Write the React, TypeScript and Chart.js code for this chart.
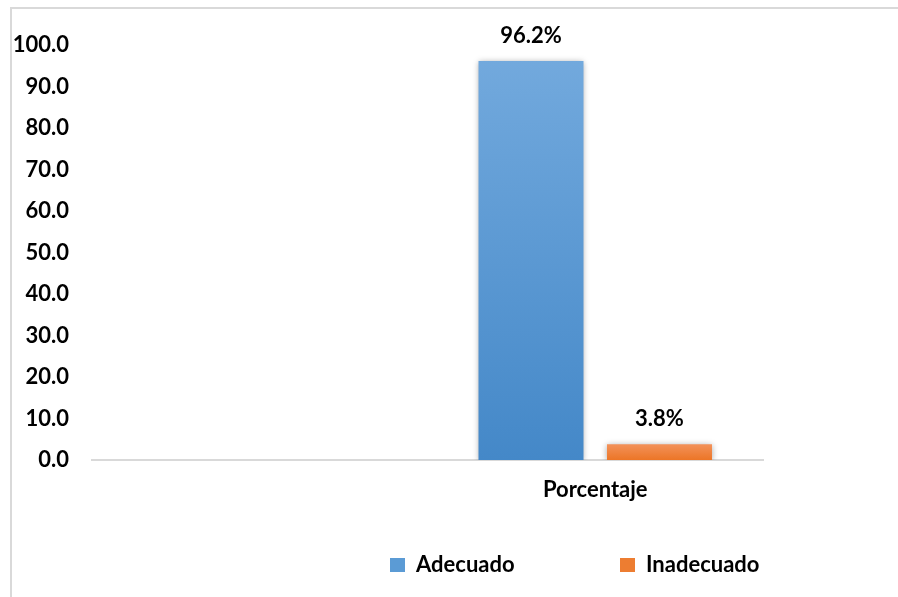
import React, { useEffect, useRef } from 'react';
import { Chart, registerables } from 'chart.js';

Chart.register(...registerables);

// ---- data ----
const categories = ['', 'Porcentaje'];
const seriesNames = ['Adecuado', 'Inadecuado'];
const adecuadoValues: (number | null)[] = [null, 96.2];
const inadecuadoValues: (number | null)[] = [null, 3.8];
const yMin = 0;
const yMax = 100;
const yStep = 10;

// ---- style ----
const FONT_FAMILY = 'Lato, "Open Sans", sans-serif';
const FONT_SIZE = 22;
const TEXT_COLOR = '#000000';
const AXIS_COLOR = '#d9d9d9';
const BLUE_TOP = '#72a9dd';
const BLUE_BOTTOM = '#4488c8';
const BLUE_FLAT = '#5b9bd5';
const ORANGE_TOP = '#f3925a';
const ORANGE_BOTTOM = '#ec7526';
const ORANGE_FLAT = '#ed7d31';

const CANVAS_W = 886;
const CANVAS_H = 588;
const LEGEND_MAX_H = 40;
const X_AXIS_H = 97;
const LEGEND_LEFT = 378; // canvas px
const LEGEND_MID = 556; // canvas px
const LEGEND_STEP = 230; // distance box1 -> box2
const BOX_W = 15;
const BOX_H = 14;
const LABEL_GAP = 18;

const gradientFill = (top: string, bottom: string, flat: string) => (ctx: any) => {
  const chart = ctx.chart;
  const y = chart && chart.scales ? chart.scales.y : null;
  const v = ctx.parsed ? ctx.parsed.y : undefined;
  if (!y || ctx.type !== 'data' || typeof v !== 'number' || !isFinite(v)) return flat;
  const y0 = y.getPixelForValue(v);
  const y1 = y.getPixelForValue(0);
  if (!isFinite(y0) || !isFinite(y1) || y1 - y0 < 1) return flat;
  const g = chart.ctx.createLinearGradient(0, y0, 0, y1);
  g.addColorStop(0, top);
  g.addColorStop(1, bottom);
  return g;
};

const barEffects = {
  id: 'barEffects',
  afterLayout(chart: any) {
    const lg = chart.legend;
    if (!lg) return;
    const P = lg.options.labels.padding;
    lg.left = LEGEND_LEFT - P;
    lg.right = chart.width;
    lg.top = LEGEND_MID - FONT_SIZE / 2 - P;
    lg.bottom = chart.height;
  },
  beforeDatasetsDraw(chart: any) {
    const c = chart.ctx;
    c.save();
    c.shadowColor = 'rgba(0,0,0,0.35)';
    c.shadowBlur = 6;
    c.shadowOffsetX = 0;
    c.shadowOffsetY = 1;
  },
  afterDatasetsDraw(chart: any) {
    const c = chart.ctx;
    c.restore();
    c.save();
    c.font = `bold ${FONT_SIZE}px ${FONT_FAMILY}`;
    c.fillStyle = TEXT_COLOR;
    c.textAlign = 'center';
    c.textBaseline = 'alphabetic';
    chart.data.datasets.forEach((ds: any, di: number) => {
      const meta = chart.getDatasetMeta(di);
      meta.data.forEach((el: any, i: number) => {
        const v = ds.data[i];
        if (typeof v !== 'number') return;
        c.fillText(v.toFixed(1) + '%', el.x, el.y - LABEL_GAP);
      });
    });
    c.restore();
  },
};

export default function App() {
  const ref = useRef<HTMLCanvasElement | null>(null);

  useEffect(() => {
    if (!ref.current) return;
    const m = document.createElement('canvas').getContext('2d')!;
    m.font = `bold ${FONT_SIZE}px ${FONT_FAMILY}`;
    const w1 = m.measureText(seriesNames[0]).width;
    const legendPadding = Math.max(10, LEGEND_STEP - BOX_W - FONT_SIZE / 2 - w1);

    const chart = new Chart(ref.current, {
      type: 'bar',
      data: {
        labels: categories,
        datasets: [
          {
            label: seriesNames[0],
            data: adecuadoValues,
            backgroundColor: gradientFill(BLUE_TOP, BLUE_BOTTOM, BLUE_FLAT),
            borderWidth: 0,
            categoryPercentage: 0.766,
            barPercentage: 0.817,
          },
          {
            label: seriesNames[1],
            data: inadecuadoValues,
            backgroundColor: gradientFill(ORANGE_TOP, ORANGE_BOTTOM, ORANGE_FLAT),
            borderWidth: 0,
            categoryPercentage: 0.766,
            barPercentage: 0.817,
          },
        ],
      },
      options: {
        animation: false,
        responsive: true,
        maintainAspectRatio: false,
        layout: { padding: { top: 35, right: 135, bottom: 0, left: 0 } },
        scales: {
          x: {
            grid: { display: false, drawTicks: false },
            border: { display: true, color: AXIS_COLOR, width: 2 },
            ticks: {
              color: TEXT_COLOR,
              padding: 17,
              font: { family: FONT_FAMILY, size: FONT_SIZE, weight: 'bold' },
            },
            afterFit: (s: any) => {
              s.height = X_AXIS_H;
            },
          },
          y: {
            min: yMin,
            max: yMax,
            grid: { display: false, drawTicks: false },
            border: { display: false },
            ticks: {
              stepSize: yStep,
              color: TEXT_COLOR,
              padding: 23,
              font: { family: FONT_FAMILY, size: FONT_SIZE, weight: 'bold' },
              callback: (v: any) => Number(v).toFixed(1),
            },
            afterFit: (s: any) => {
              s.width = 80;
            },
          },
        },
        plugins: {
          legend: {
            position: 'bottom',
            align: 'start',
            maxHeight: LEGEND_MAX_H,
            labels: {
              boxWidth: BOX_W,
              boxHeight: BOX_H,
              padding: legendPadding,
              color: TEXT_COLOR,
              font: { family: FONT_FAMILY, size: FONT_SIZE, weight: 'bold' },
            },
          },
          tooltip: { enabled: false },
        },
      },
      plugins: [barEffects],
    } as any);
    return () => chart.destroy();
  }, []);

  return (
    <div
      style={{
        position: 'absolute',
        left: 10,
        top: 7,
        width: 888,
        height: 590,
        boxSizing: 'border-box',
        borderLeft: `2px solid ${AXIS_COLOR}`,
        borderTop: `2px solid ${AXIS_COLOR}`,
        background: '#ffffff',
      }}
    >
      <div style={{ position: 'relative', width: CANVAS_W, height: CANVAS_H }}>
        <canvas ref={ref} />
      </div>
    </div>
  );
}
